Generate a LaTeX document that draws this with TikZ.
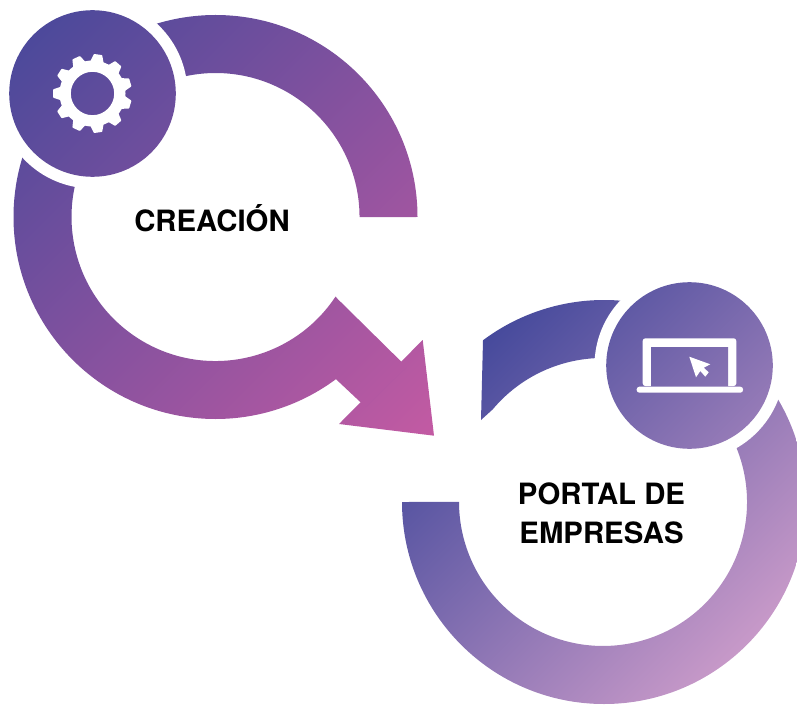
\documentclass[tikz,border=0pt]{standalone}
\usepackage{fontspec}
\setmainfont{TeX Gyre Heros}
\definecolor{blueone}{HTML}{44489A}
\definecolor{midone}{HTML}{7F4596}
\definecolor{pinkone}{HTML}{C65BA3}
\definecolor{bluetwo}{HTML}{3E4599}
\definecolor{midtwo}{HTML}{7D60AA}
\definecolor{pinktwo}{HTML}{CC9CCA}
\tikzset{
	gaproom/.style={fill=white},
	iconwhite/.style={fill=white},
	steplabel/.style={font=\fontsize{16.7}{22.1}\selectfont\bfseries, text=black, align=center}
}
\def\shadeone{\shade[transform canvas={shift={(225,479)},rotate=-45},left color=blueone,middle color=midone,right color=pinkone] (-310,-700) rectangle (310,700);}
\def\shadetwo{\shade[transform canvas={shift={(550,154)},rotate=-45},left color=bluetwo,middle color=midtwo,right color=pinktwo] (-220,-700) rectangle (220,700);}

\begin{document}
\begin{tikzpicture}[x=0.02cm, y=0.02cm]
	%%%%% START %%%%%
	\useasboundingbox (0, 0) rectangle (797, 704);
	\clip (0, 0) rectangle (797, 704);
	
	\coordinate (gearhub) at (92.5, 610.5);
	\coordinate (screenhub) at (689.5, 338.5);
	
	% first ring with arrow
	\begin{scope}
		\clip (417.5, 487) arc[start angle=0, end angle=306.6, radius=202] -- (365.6, 297) -- (406.7, 337) -- (337.7, 405) -- (335.6, 407.5) arc[start angle=326.5, end angle=0, radius=144] -- cycle;
		\shadeone
	\end{scope}
	\begin{scope}
		\clip (422.7, 364) -- (434, 268.3) -- (339, 280) -- cycle;
		\shadeone
	\end{scope}
	\draw[line width=0.3pt, color=pinkone!85!blueone] (406.7, 337) -- (365.6, 297);
	
	% second ring
	\begin{scope}
		\clip (402, 202) arc[start angle=180, end angle=486.8, radius=202] -- (481, 284) -- (492.7, 294.6) arc[start angle=500, end angle=180, radius=144] -- cycle;
		\shadetwo
	\end{scope}
	
	% circles on the rings
	\fill[gaproom] (gearhub) circle (95);
	\begin{scope}
		\clip (gearhub) circle (83.3);
		\shadeone
	\end{scope}
	\fill[gaproom] (screenhub) circle (95);
	\begin{scope}
		\clip (screenhub) circle (83.3);
		\shadetwo
	\end{scope}
	
	% gear
	\begin{scope}[shift={(gearhub)}]
		\foreach \a in {0,...,10}
			\filldraw[iconwhite, draw=white, line width=1pt, line join=round, rotate=180+\a*32.727] (31, -6) -- (38.5, -3.5) -- (38.5, 3.5) -- (31, 6) -- cycle;
		\fill[iconwhite, even odd rule] (0, 0) circle (33) (0, 0) circle (21.7);
	\end{scope}
	
	% laptop
	\fill[iconwhite, rounded corners=1.5pt] (642.7, 318) -- (642.7, 365.7) -- (736.3, 365.7) -- (736.3, 318) -- cycle;
	\begin{scope}
		\clip (651, 318) rectangle (728, 356.7);
		\shadetwo
	\end{scope}
	\fill[iconwhite, rounded corners=1.5pt] (636.7, 317.3) -- (636.7, 311.3) -- (743, 311.3) -- (743, 317.3) -- cycle;
	\fill[iconwhite] (689.3, 347.3) -- (710.3, 339.7) -- (703.7, 336.3) -- (708.7, 331.7) -- (705.3, 327.3) -- (700.3, 333) -- (696, 326.7) -- cycle;
	
	% labels
	\node[steplabel] (creacion) at (212, 486) {CREACIÓN};
	\node[steplabel] (portal) at (601.5, 190.5) {PORTAL DE\\EMPRESAS};
	
	%%%%% END %%%%%
\end{tikzpicture}
\end{document}
